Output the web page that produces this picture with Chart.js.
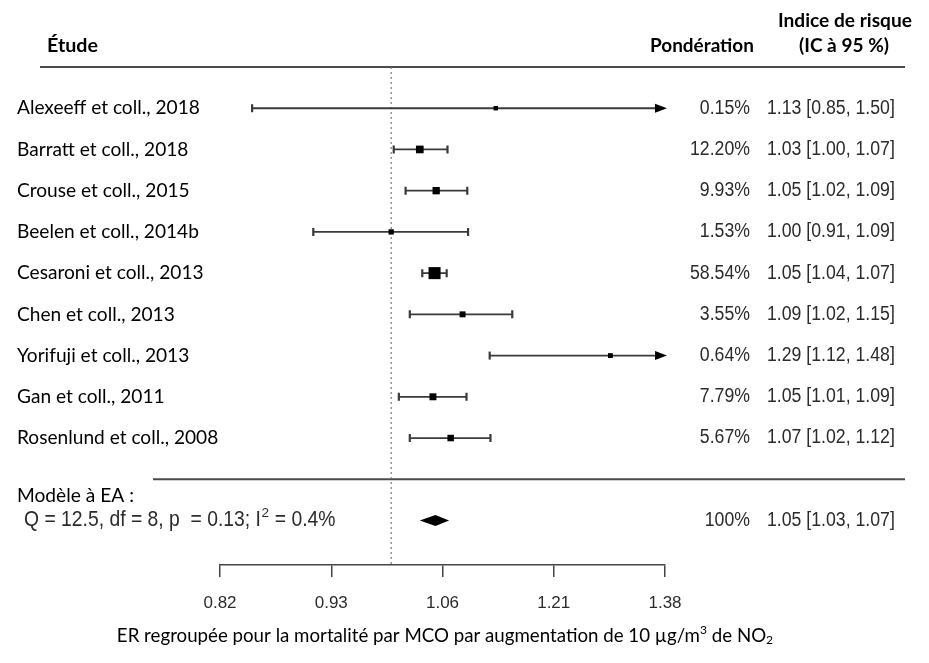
<!DOCTYPE html>
<html>
<head>
<meta charset="utf-8">
<script src="https://cdn.jsdelivr.net/npm/chart.js@4"></script>
<style>
    html, body { margin: 0; padding: 0; background: #fff; }
    #wrap { width: 929px; height: 663px; }
</style>
</head>
<body>
<div id="wrap"><canvas id="forestChart" width="929" height="663"></canvas></div>
<script>
// Data
const studies = [
    'Alexeeff et coll., 2018',
    'Barratt et coll., 2018',
    'Crouse et coll., 2015',
    'Beelen et coll., 2014b',
    'Cesaroni et coll., 2013',
    'Chen et coll., 2013',
    'Yorifuji et coll., 2013',
    'Gan et coll., 2011',
    'Rosenlund et coll., 2008'
];
const weights = [0.15, 12.20, 9.93, 1.53, 58.54, 3.55, 0.64, 7.79, 5.67];
const estimates = [1.13, 1.034, 1.054, 1.00, 1.052, 1.087, 1.292, 1.050, 1.072];
const lower = [0.85, 1.003, 1.017, 0.913, 1.037, 1.022, 1.122, 1.009, 1.022];
const upper = [1.50, 1.068, 1.093, 1.094, 1.067, 1.152, 1.48, 1.092, 1.123];

const summaryEstimate = 1.053;
const summaryLower = 1.034;
const summaryUpper = 1.070;
const summaryWeight = '100%';
const heterogeneity = ['Q = 12.5, df = 8, p  = 0.13; I', '2', ' = 0.4%'];

const tickValues = [0.8187, 0.9324, 1.0618, 1.2092, 1.3771];
const tickLabels = ['0.82', '0.93', '1.06', '1.21', '1.38'];

const SUMMARY_ROW = studies.length + 1;
const STRETCH = 1.12; // the R text in the figure is a little taller than Arial

// set a font size so that text fills the given width
function fitFont(ctx, text, width, weight, family) {
    ctx.font = weight + ' 20px ' + family;
    const size = 20 * width / ctx.measureText(text).width;
    ctx.font = weight + ' ' + size.toFixed(2) + 'px ' + family;
    return size;
}

function tallText(ctx, text, x, y) {
    ctx.save();
    ctx.translate(x, y);
    ctx.scale(1, STRETCH);
    ctx.fillText(text, 0, 0);
    ctx.restore();
}

function hLine(ctx, x0, x1, y) {
    ctx.beginPath();
    ctx.moveTo(x0, y);
    ctx.lineTo(x1, y);
    ctx.stroke();
}

const forestPlugin = {
    id: 'forest',
    beforeDatasetsDraw(chart) {
        const { ctx, chartArea, scales: { x, y } } = chart;
        ctx.save();

        // horizontal rules
        ctx.strokeStyle = '#4a4a4a';
        ctx.lineWidth = 2;
        hLine(ctx, 40, 905, y.getPixelForValue(-1));
        hLine(ctx, 153, 905, y.getPixelForValue(studies.length));

        // reference line at 1
        const x1 = x.getPixelForValue(1);
        ctx.setLineDash([2, 3]);
        ctx.strokeStyle = '#777';
        ctx.lineWidth = 1.2;
        ctx.beginPath();
        ctx.moveTo(x1, chartArea.top);
        ctx.lineTo(x1, chartArea.bottom);
        ctx.stroke();
        ctx.setLineDash([]);

        // confidence intervals
        ctx.strokeStyle = '#3a3a3a';
        ctx.fillStyle = '#000';
        studies.forEach((s, i) => {
            const py = y.getPixelForValue(i);
            const clipHi = upper[i] > x.max;
            const left = x.getPixelForValue(Math.max(lower[i], x.min));
            const right = x.getPixelForValue(Math.min(upper[i], x.max));
            ctx.lineWidth = 1.8;
            hLine(ctx, left, clipHi ? right - 8 : right, py);
            ctx.lineWidth = 2.2;
            ctx.beginPath();
            ctx.moveTo(left, py - 4);
            ctx.lineTo(left, py + 4);
            if (!clipHi) {
                ctx.moveTo(right, py - 4);
                ctx.lineTo(right, py + 4);
            }
            ctx.stroke();
            if (clipHi) {
                ctx.beginPath();
                ctx.moveTo(right + 2, py);
                ctx.lineTo(right - 10, py - 4.5);
                ctx.lineTo(right - 10, py + 4.5);
                ctx.closePath();
                ctx.fill();
            }
        });
        ctx.restore();
    },
    afterDatasetsDraw(chart) {
        const { ctx, scales: { x, y } } = chart;
        ctx.save();

        // summary diamond
        const sy = y.getPixelForValue(SUMMARY_ROW);
        ctx.fillStyle = '#000';
        ctx.beginPath();
        ctx.moveTo(x.getPixelForValue(summaryLower), sy);
        ctx.lineTo(x.getPixelForValue(summaryEstimate), sy - 5.5);
        ctx.lineTo(x.getPixelForValue(summaryUpper), sy);
        ctx.lineTo(x.getPixelForValue(summaryEstimate), sy + 5.5);
        ctx.closePath();
        ctx.fill();

        // headers
        ctx.textBaseline = 'middle';
        ctx.fillStyle = '#000';
        ctx.textAlign = 'left';
        fitFont(ctx, 'Étude', 51, 'bold', 'Lato');
        ctx.fillText('Étude', 47, 46);
        fitFont(ctx, 'Pondération', 104, 'bold', 'Lato');
        ctx.fillText('Pondération', 650, 46);
        ctx.textAlign = 'center';
        fitFont(ctx, 'Indice de risque', 134, 'bold', 'Lato');
        ctx.fillText('Indice de risque', 845, 21);
        fitFont(ctx, '(IC à 95 %)', 90, 'bold', 'Lato');
        ctx.fillText('(IC à 95 %)', 844, 46);

        // study names
        ctx.textAlign = 'left';
        fitFont(ctx, studies[0], 183, 'normal', 'Lato');
        studies.forEach((s, i) => ctx.fillText(s, 17, y.getPixelForValue(i)));

        // weights and estimates
        ctx.fillStyle = '#2b2b2b';
        fitFont(ctx, '1.13 [0.85, 1.50]', 128, 'normal', '"Liberation Sans", Arial');
        studies.forEach((s, i) => {
            const py = y.getPixelForValue(i);
            ctx.textAlign = 'right';
            tallText(ctx, weights[i].toFixed(2) + '%', 750, py);
            ctx.textAlign = 'left';
            tallText(ctx, estimates[i].toFixed(2) + ' [' + lower[i].toFixed(2) + ', ' + upper[i].toFixed(2) + ']', 767, py);
        });
        ctx.textAlign = 'right';
        tallText(ctx, summaryWeight, 750, sy);
        ctx.textAlign = 'left';
        tallText(ctx, summaryEstimate.toFixed(2) + ' [' + summaryLower.toFixed(2) + ', ' + summaryUpper.toFixed(2) + ']', 767, sy);

        // summary label and heterogeneity
        ctx.fillStyle = '#000';
        fitFont(ctx, 'Modèle à EA :', 117, 'normal', 'Lato');
        ctx.fillText('Modèle à EA :', 17, y.getPixelForValue(SUMMARY_ROW - 0.6));
        ctx.fillStyle = '#2b2b2b';
        const hs = fitFont(ctx, heterogeneity.join(''), 314, 'normal', '"Liberation Sans", Arial');
        let hx = 24;
        tallText(ctx, heterogeneity[0], hx, sy);
        hx += ctx.measureText(heterogeneity[0]).width;
        const mainFont = ctx.font;
        ctx.font = (hs * 0.7).toFixed(1) + 'px "Liberation Sans", Arial';
        ctx.fillText(heterogeneity[1], hx + 0.5, sy - 7);
        hx += ctx.measureText(heterogeneity[1]).width + 1;
        ctx.font = mainFont;
        tallText(ctx, heterogeneity[2], hx, sy);

        // x axis title with superscript and subscript
        ctx.fillStyle = '#000';
        const parts = [
            { t: 'ER regroupée pour la mortalité par MCO par augmentation de 10 µg/m', dy: 0, k: 1 },
            { t: '3', dy: -6, k: 0.65 },
            { t: ' de NO', dy: 0, k: 1 },
            { t: '2', dy: 4, k: 0.65 }
        ];
        const ts = fitFont(ctx, parts.map(p => p.t).join(''), 664, 'normal', 'Lato');
        let total = 0;
        parts.forEach(p => {
            ctx.font = (ts * p.k).toFixed(2) + 'px Lato';
            p.w = ctx.measureText(p.t).width;
            total += p.w;
        });
        let tx = 445 - total / 2;
        parts.forEach(p => {
            ctx.font = (ts * p.k).toFixed(2) + 'px Lato';
            ctx.fillText(p.t, tx, 636 + p.dy);
            tx += p.w;
        });

        ctx.restore();
    }
};

function initChart() {
    Chart.defaults.font.family = '"Liberation Sans", Arial, sans-serif';
    Chart.defaults.font.size = 17;

    const ctx = document.getElementById('forestChart').getContext('2d');
    new Chart(ctx, {
        type: 'scatter',
        data: {
            datasets: [{
                data: studies.map((s, i) => ({ x: estimates[i], y: i })),
                pointStyle: 'rect',
                // marker side grows with the study weight
                pointRadius: weights.map(w => (4 + 1.05 * Math.sqrt(w)) / Math.SQRT2),
                pointHoverRadius: weights.map(w => (4 + 1.05 * Math.sqrt(w)) / Math.SQRT2),
                backgroundColor: '#000',
                borderWidth: 0,
                clip: false
            }]
        },
        options: {
            responsive: false,
            animation: false,
            devicePixelRatio: 1,
            layout: {
                padding: { left: 220, right: 264, top: 67, bottom: 0 }
            },
            plugins: {
                legend: { display: false },
                tooltip: { enabled: false }
            },
            scales: {
                x: {
                    type: 'logarithmic',
                    min: tickValues[0],
                    max: tickValues[tickValues.length - 1],
                    afterBuildTicks: scale => {
                        scale.ticks = tickValues.map(v => ({ value: v }));
                    },
                    afterFit: scale => {
                        scale.height = 98;
                    },
                    border: { display: true, color: '#444', width: 1.5 },
                    grid: {
                        drawOnChartArea: false,
                        drawTicks: true,
                        tickLength: 12,
                        color: '#444',
                        lineWidth: 1.5
                    },
                    ticks: {
                        autoSkip: false,
                        maxRotation: 0,
                        padding: 16,
                        color: '#2b2b2b',
                        font: { family: '"Liberation Sans", Arial, sans-serif', size: 17 },
                        major: { enabled: false },
                        callback: (value, index) => tickLabels[index]
                    }
                },
                y: {
                    type: 'linear',
                    display: false,
                    reverse: true,
                    min: -1,
                    max: 11.08
                }
            }
        },
        plugins: [forestPlugin]
    });
}

document.addEventListener('DOMContentLoaded', initChart);
</script>
</body>
</html>
